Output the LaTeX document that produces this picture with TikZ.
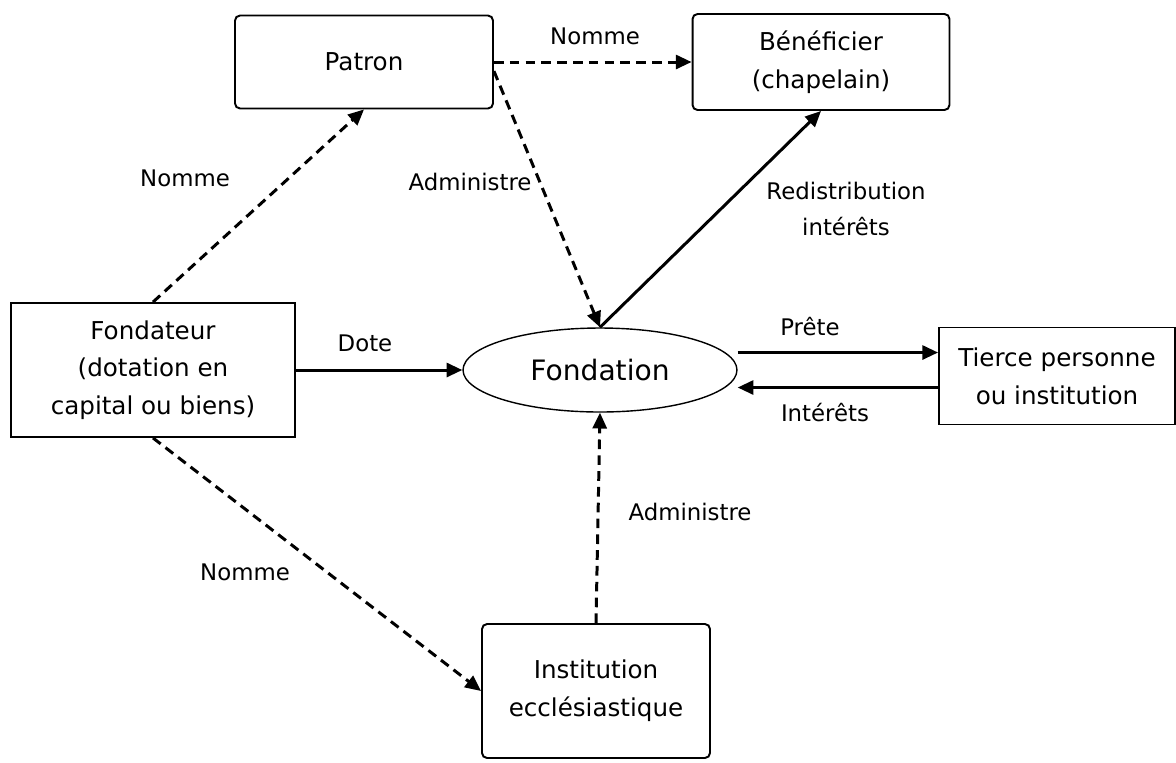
\documentclass[tikz,border=0pt]{standalone}
\usepackage{fontspec}
\setmainfont{DejaVu Sans}
\usetikzlibrary{positioning}
\usetikzlibrary{calc}
\usetikzlibrary{shapes.geometric}
\usetikzlibrary{arrows.meta}

\begin{document}
\begin{tikzpicture}[x=0.02cm,y=-0.02cm,
    box/.style={draw,line width=1.1pt,align=center,inner sep=0pt,
      font=\fontsize{14}{21.5}\selectfont},
    rbox/.style={box,rounded corners=0.1cm},
    lbl/.style={font=\fontsize{13}{21}\selectfont,align=center},
    link/.style={line width=1.7pt,-{Triangle[length=9pt,width=8pt]}},
    dlink/.style={link,dash pattern=on 5.5pt off 3.5pt}]
  \useasboundingbox (0,0) rectangle (1176,762);
  % les acteurs
  \node[rbox,minimum width=5.16cm,minimum height=1.86cm] (patron) at (364,62) {Patron};
  \node[rbox,minimum width=5.14cm,minimum height=1.92cm] (benef) at (821,62) {Bénéficier\\(chapelain)};
  \node[box,minimum width=5.68cm,minimum height=2.68cm] (fondateur) at (153,370) {Fondateur\\(dotation en\\capital ou biens)};
  \node[ellipse,draw,line width=0.8pt,inner sep=0pt,minimum width=5.48cm,minimum height=1.68cm,
    font=\fontsize{16}{20}\selectfont] (fondation) at (600,370) {Fondation};
  \node[box,minimum width=4.72cm,minimum height=1.94cm] (tierce) at (1057,376) {Tierce personne\\ou institution};
  \node[rbox,minimum width=4.56cm,minimum height=2.68cm] (inst) at (596,691) {Institution\\ecclésiastique};
  % les liens
  \draw[dlink] (fondateur.north) -- (patron.south);
  \draw[dlink] (patron.east) -- (benef.west);
  \draw[dlink] (patron.-4) -- (fondation.north);
  \draw[link] (fondation.north) -- (benef.south);
  \draw[link] (fondateur.east) -- (fondation.west);
  \coordinate (pretea) at ($(fondation.east)+(0,0.35cm)$);
  \coordinate (interetsa) at ($(fondation.east)+(0,-0.35cm)$);
  \draw[link] (pretea) -- (pretea -| tierce.west);
  \draw[link] (interetsa -| tierce.west) -- (interetsa);
  \draw[dlink] (inst.north) -- (fondation.south);
  \draw[dlink] (fondateur.south) -- (inst.west);
  % les etiquettes
  \node[lbl] (l1) at (185,178) {Nomme};
  \node[lbl] (l2) at (595,36) {Nomme};
  \node[lbl] (l3) at (470,182) {Administre};
  \node[lbl] (l4) at (846,209) {Redistribution\\intérêts};
  \node[lbl] (l5) at (365,343) {Dote};
  \node[lbl] (l6) at (810,327) {Prête};
  \node[lbl] (l7) at (825,413) {Intérêts};
  \node[lbl] (l8) at (690,512) {Administre};
  \node[lbl] (l9) at (245,572) {Nomme};
\end{tikzpicture}
\end{document}
